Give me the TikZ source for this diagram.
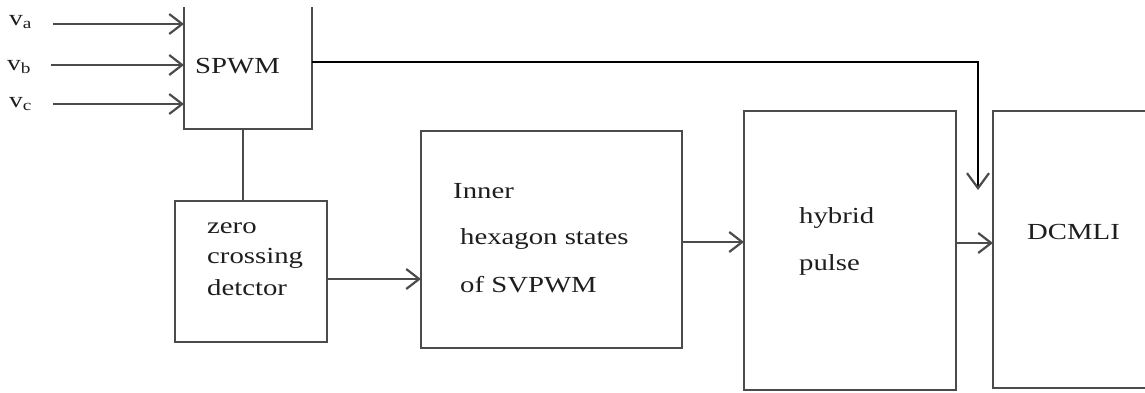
\documentclass[tikz,border=0pt]{standalone}
\usepackage{fontspec}
\setmainfont{Liberation Serif}[FakeStretch=1.25]
\usetikzlibrary{arrows.meta}
\definecolor{ln}{RGB}{75,75,75}
\definecolor{tx}{RGB}{30,30,30}
\tikzset{
  edge/.style={draw=ln,line width=2.9pt},
  arr/.style={draw=ln,line width=2.6pt,-{Straight Barb[length=13pt,width=20pt,line width=2.2pt]}},
  feed/.style={draw=black,line width=2.8pt,-{Straight Barb[length=15pt,width=22pt,line width=2.2pt,color=ln]}},
  lbl/.style={anchor=west,inner sep=0pt,text=tx,font=\fontsize{23}{30}\selectfont},
  vlbl/.style={anchor=west,inner sep=0pt,text=tx,font=\fontsize{22}{24}\selectfont},
}
\begin{document}
\begin{tikzpicture}[x=1pt,y=-1pt]
\useasboundingbox (0,0) rectangle (1145,392);
% boxes (corners)
\coordinate (spwmNW) at (184,7);   \coordinate (spwmSE) at (312,129);
\coordinate (zcdNW) at (175,201);  \coordinate (zcdSE) at (327,342);
\coordinate (innNW) at (421,131);  \coordinate (innSE) at (682,348);
\coordinate (hybNW) at (744,111);  \coordinate (hybSE) at (956,390);
\coordinate (dcmNW) at (993,111);  \coordinate (dcmSE) at (1152,388);
% SPWM box: open top
\draw[edge,line join=miter] (spwmNW) |- (spwmSE) -- (spwmSE |- spwmNW);
\draw[edge] (zcdNW) rectangle (zcdSE);
\draw[edge] (innNW) rectangle (innSE);
\draw[edge] (hybNW) rectangle (hybSE);
\draw[edge] (dcmNW) rectangle (dcmSE);
% input labels
\node[vlbl] (va) at (9,22) {v\textsubscript{a}};
\node[vlbl] (vb) at (7,67) {v\textsubscript{b}};
\node[vlbl] (vc) at (9,104) {v\textsubscript{c}};
\coordinate (ia) at (53,24);
\coordinate (ib) at (51,65);
\coordinate (ic) at (53,104);
\draw[arr] (ia) -- (ia -| spwmNW);
\draw[arr] (ib) -- (ib -| spwmNW);
\draw[arr] (ic) -- (ic -| spwmNW);
% texts
\node[lbl] (tspwm) at (195,66) {SPWM};
\node[lbl] (tz1) at (207,228) {zero};
\node[lbl] (tz2) at (207,258) {crossing};
\node[lbl] (tz3) at (207,288) {detctor};
\node[lbl] (ti1) at (453,191) {Inner};
\node[lbl] (ti2) at (460,239) {hexagon states};
\node[lbl] (ti3) at (460,285) {of SVPWM};
\node[lbl] (th1) at (799,218) {hybrid};
\node[lbl] (th2) at (799,265) {pulse};
\node[lbl] (td) at (1027,232) {DCMLI};
% connectors
\coordinate (c1) at (243,129);
\draw[edge] (c1) -- (c1 |- zcdNW);
\coordinate (c2) at (327,279);
\draw[arr] (c2) -- (c2 -| innNW);
\coordinate (c3) at (682,242);
\draw[arr] (c3) -- (c3 -| hybNW);
\coordinate (c4) at (956,243);
\draw[arr] (c4) -- (c4 -| dcmNW);
\coordinate (c5) at (312,62);
\coordinate (c6) at (978,190);
\draw[feed] (c5) -| (c6);
\end{tikzpicture}
\end{document}
